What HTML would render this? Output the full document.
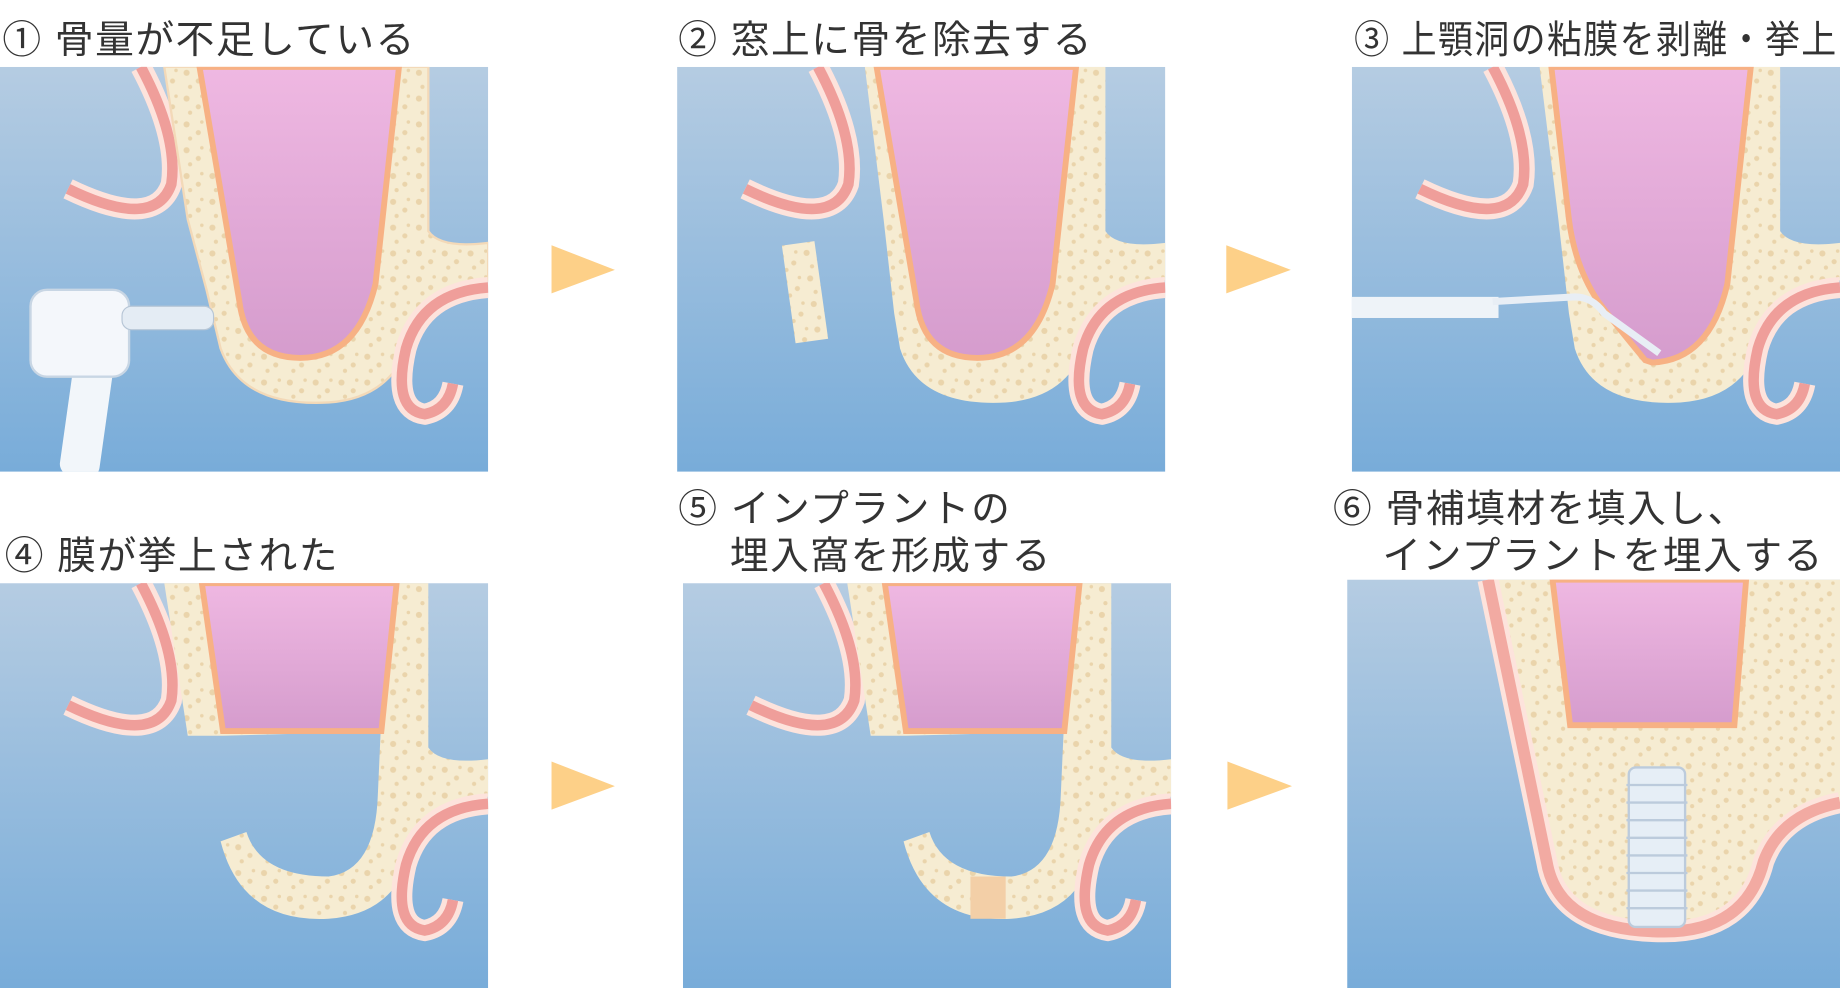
<!DOCTYPE html>
<html><head><meta charset="utf-8"><style>
html,body{margin:0;padding:0;background:#fff;}
svg{display:block;}
text{font-family:"Liberation Sans","Noto Sans CJK JP",sans-serif;fill:#333;font-size:33px;letter-spacing:1.3px;}
</style></head><body>
<svg width="1840" height="988" viewBox="0 0 1568 842" preserveAspectRatio="none" xmlns="http://www.w3.org/2000/svg">
<defs>
<linearGradient id="bg" x1="0" y1="0" x2="0" y2="1">
<stop offset="0" stop-color="#b5cce2"/><stop offset="1" stop-color="#78acd9"/></linearGradient>
<linearGradient id="sin" x1="0" y1="0" x2="0" y2="1">
<stop offset="0" stop-color="#efb8e2"/><stop offset="1" stop-color="#d59ccd"/></linearGradient>
<pattern id="dots" width="22" height="22" patternUnits="userSpaceOnUse">
<rect width="22" height="22" fill="#f6ecd2"/>
<circle cx="5" cy="5" r="2.6" fill="#ead4ab"/><circle cx="15" cy="12" r="2.2" fill="#ead4ab"/>
<circle cx="8" cy="17" r="1.8" fill="#ead4ab"/><circle cx="18" cy="3" r="1.5" fill="#ead4ab"/></pattern>
<g id="lefthook">
<path d="M120,0 Q152,60 146,100 Q132,140 58,104" fill="none" stroke="#fde3dc" stroke-width="18"/>
<path d="M120,0 Q152,60 146,100 Q132,140 58,104" fill="none" stroke="#ef9e9a" stroke-width="9"/>
</g>
<g id="righthook">
<path d="M416,188 Q360,192 346,240 Q334,292 362,296 Q382,292 386,270" fill="none" stroke="#fde3dc" stroke-width="18"/>
<path d="M416,188 Q360,192 346,240 Q334,292 362,296 Q382,292 386,270" fill="none" stroke="#ef9e9a" stroke-width="9"/>
</g>
<clipPath id="pc"><rect width="416" height="345"/></clipPath>
<clipPath id="pc6"><rect width="420" height="348"/></clipPath>
</defs>

<text x="2" y="45">① 骨量が不足している</text>
<text x="578" y="45">② 窓上に骨を除去する</text>
<text x="1154" y="45" textLength="412" lengthAdjust="spacingAndGlyphs">③ 上顎洞の粘膜を剥離・挙上</text>
<text x="4" y="485">④ 膜が挙上された</text>
<text x="578" y="445">⑤ インプラントの</text>
<text x="622" y="485">埋入窩を形成する</text>
<text x="1136" y="445">⑥ 骨補填材を填入し、</text>
<text x="1178" y="485">インプラントを埋入する</text>

<g fill="#fdd088">
<polygon points="470,209 524,230 470,250"/>
<polygon points="1045,209 1100,230 1045,250"/>
<polygon points="470,649 524,670 470,690"/>
<polygon points="1046,649 1101,670 1046,690"/>
</g>

<g transform="translate(0,57)" clip-path="url(#pc)">
<rect width="416" height="345" fill="url(#bg)"/>
<use href="#lefthook"/>
<path d="M140,0 L365,0 L365,140 Q375,155 416,150 L416,182 Q370,186 350,230 Q336,282 280,286 Q206,290 188,240 L176,190 L160,130 Z" fill="url(#dots)" stroke="#f3d9b8" stroke-width="2"/>
<path d="M170,0 L340,0 L320,185 Q305,248 256,248 Q210,248 204,200 Z" fill="url(#sin)" stroke="#f7b184" stroke-width="5"/>
<use href="#righthook"/>
<rect x="60" y="200" width="34" height="150" rx="10" fill="#f2f6fa" transform="rotate(8 77 275)"/>
<rect x="26" y="190" width="84" height="74" rx="14" fill="#f4f7fb" stroke="#c8d6e4" stroke-width="2"/>
<rect x="104" y="204" width="78" height="20" rx="8" fill="#e4ecf4" stroke="#b7c6d6"/>
</g>

<g transform="translate(577,57)" clip-path="url(#pc)">
<rect width="416" height="345" fill="url(#bg)"/>
<use href="#lefthook"/>
<path d="M160,0 L365,0 L365,140 Q375,155 416,150 L416,182 Q370,186 350,230 Q336,282 280,286 Q206,290 190,240 L185,210 L176,130 Z" fill="url(#dots)"/>
<path d="M170,0 L340,0 L320,185 Q305,248 256,248 Q210,248 204,200 Z" fill="url(#sin)" stroke="#f7b184" stroke-width="5"/>
<rect x="95" y="150" width="28" height="84" fill="url(#dots)" transform="rotate(-8 109 192)"/>
<use href="#righthook"/>
</g>

<g transform="translate(1152,57)" clip-path="url(#pc)">
<rect width="416" height="345" fill="url(#bg)"/>
<use href="#lefthook"/>
<path d="M160,0 L365,0 L365,140 Q375,155 416,150 L416,182 Q370,186 350,230 Q336,282 280,286 Q206,290 190,240 L185,210 L176,130 Z" fill="url(#dots)"/>
<path d="M170,0 L340,0 L320,185 Q305,250 256,252 L250,250 Q225,220 210,200 Q190,170 185,130 Z" fill="url(#sin)" stroke="#f7b184" stroke-width="5"/>
<use href="#righthook"/>
<rect x="0" y="196" width="125" height="18" fill="#eef3f8"/>
<path d="M120,200 L190,196 Q205,196 215,210 L262,244" fill="none" stroke="#e8eef5" stroke-width="6"/>
</g>

<g transform="translate(0,497)" clip-path="url(#pc)">
<rect width="416" height="345" fill="url(#bg)"/>
<use href="#lefthook"/>
<path d="M140,0 L340,0 L340,126 L190,130 L160,130 Z" fill="url(#dots)"/>
<path d="M330,0 L365,0 L365,140 Q375,155 416,150 L416,182 Q370,186 350,230 Q336,282 280,286 Q206,290 188,220 L210,212 Q222,250 280,250 Q320,245 322,180 Z" fill="url(#dots)"/>
<path d="M172,0 L338,0 L325,126 L190,126 Z" fill="url(#sin)" stroke="#f7b184" stroke-width="5"/>
<use href="#righthook"/>
</g>

<g transform="translate(582,497)" clip-path="url(#pc)">
<rect width="416" height="345" fill="url(#bg)"/>
<use href="#lefthook"/>
<path d="M140,0 L340,0 L340,126 L190,130 L160,130 Z" fill="url(#dots)"/>
<path d="M330,0 L365,0 L365,140 Q375,155 416,150 L416,182 Q370,186 350,230 Q336,282 280,286 Q206,290 188,220 L210,212 Q222,250 280,250 Q320,245 322,180 Z" fill="url(#dots)"/>
<rect x="245" y="250" width="30" height="36" fill="#f3cfa7"/>
<path d="M172,0 L338,0 L325,126 L190,126 Z" fill="url(#sin)" stroke="#f7b184" stroke-width="5"/>
<use href="#righthook"/>
</g>

<g transform="translate(1148,494)" clip-path="url(#pc6)">
<rect width="420" height="348" fill="url(#bg)"/>
<path d="M120,0 L420,0 L420,190 Q370,200 355,240 Q340,300 270,300 Q180,300 170,240 Z" fill="url(#dots)"/>
<path d="M120,0 L170,240 Q180,300 270,300 Q340,300 355,240 Q370,200 420,190" fill="none" stroke="#fde3dc" stroke-width="18"/>
<path d="M120,0 L170,240 Q180,300 270,300 Q340,300 355,240 Q370,200 420,190" fill="none" stroke="#f2aaa2" stroke-width="10"/>
<path d="M175,0 L340,0 L330,124 L190,124 Z" fill="url(#sin)" stroke="#f7b184" stroke-width="5"/>
<rect x="240" y="160" width="48" height="136" rx="6" fill="#e6eef6" stroke="#bccbdc" stroke-width="2"/>
<g stroke="#bccbdc" stroke-width="2">
<line x1="238" y1="175" x2="290" y2="175"/><line x1="238" y1="190" x2="290" y2="190"/><line x1="238" y1="205" x2="290" y2="205"/>
<line x1="238" y1="220" x2="290" y2="220"/><line x1="238" y1="235" x2="290" y2="235"/><line x1="238" y1="250" x2="290" y2="250"/>
<line x1="238" y1="265" x2="290" y2="265"/><line x1="238" y1="280" x2="290" y2="280"/></g>
</g>
</svg>
</body></html>
